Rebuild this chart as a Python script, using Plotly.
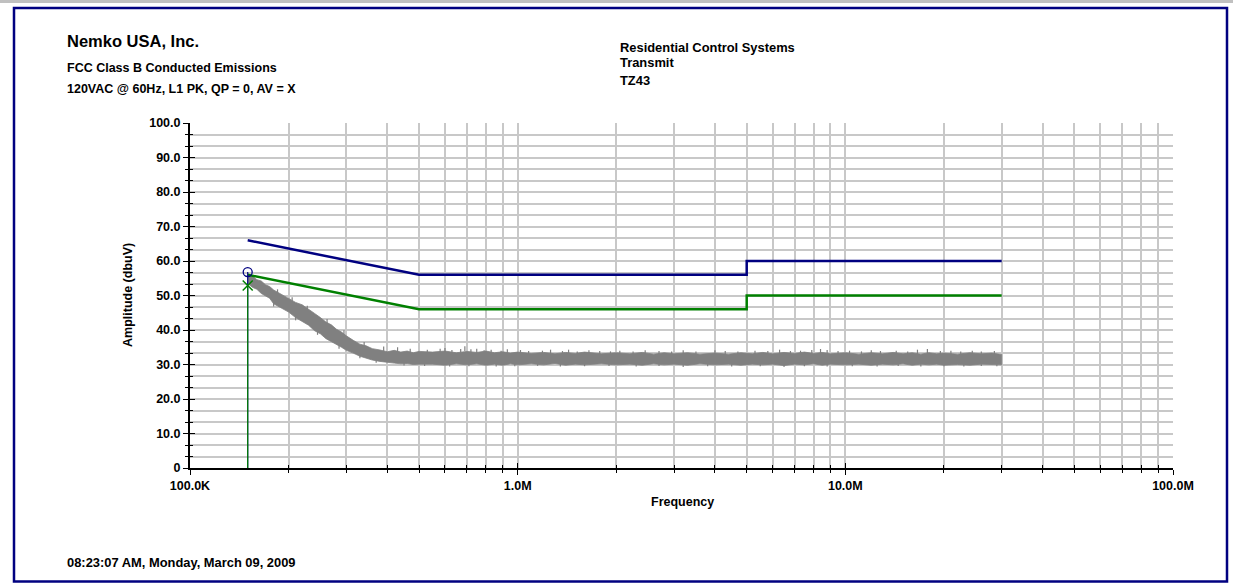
import plotly.graph_objects as go

# ---------------- data ----------------
# Limit lines (frequency in MHz, amplitude in dBuV)
qp_limit_freq = [0.15, 0.5, 5.0, 5.0, 30.0]
qp_limit_amp = [66.0, 56.0, 56.0, 60.0, 60.0]
av_limit_freq = [0.15, 0.5, 5.0, 5.0, 30.0]
av_limit_amp = [56.0, 46.0, 46.0, 50.0, 50.0]

sweep_freq = [0.150, 0.155, 0.160, 0.165, 0.170, 0.175, 0.180, 0.190, 0.200, 0.210,
              0.220, 0.230, 0.240, 0.250, 0.260, 0.270, 0.280, 0.290, 0.300, 0.315,
              0.330, 0.345, 0.360, 0.380, 0.400, 0.420, 0.440, 0.460, 0.480, 0.500,
              0.55, 0.6, 0.65, 0.7, 0.75, 0.8, 0.85, 0.9, 0.95, 1.0,
              1.1, 1.2, 1.3, 1.4, 1.5, 1.6, 1.8, 2.0, 2.2, 2.4,
              2.6, 2.8, 3.0, 3.3, 3.6, 4.0, 4.4, 4.8, 5.2, 5.6,
              6.0, 6.5, 7.0, 7.5, 8.0, 8.5, 9.0, 10.0, 11.0, 12.0,
              13.0, 14.0, 15.0, 16.0, 17.0, 18.0, 19.0, 20.0, 22.0, 24.0,
              26.0, 28.0, 30.0]
sweep_upper = [55.8, 55.6, 54.6, 54.2, 53.1, 52.6, 51.6, 50.4, 49.3, 48.0,
               47.3, 45.9, 44.8, 43.6, 42.3, 41.5, 40.2, 39.4, 38.3, 37.0,
               35.9, 35.4, 34.6, 34.2, 33.7, 34.1, 33.6, 33.9, 33.4, 33.8,
               33.6, 33.9, 33.4, 33.8, 33.5, 33.9, 33.4, 33.7, 33.3, 33.6,
               33.2, 33.5, 33.1, 33.5, 33.2, 33.6, 33.1, 33.4, 33.1, 33.5,
               33.0, 33.4, 33.1, 33.4, 33.0, 33.3, 33.0, 33.4, 33.1, 33.5,
               33.1, 33.5, 33.2, 33.6, 33.2, 33.5, 33.1, 33.4, 33.0, 33.4,
               33.1, 33.5, 33.1, 33.4, 33.0, 33.4, 33.1, 33.3, 33.0, 33.4,
               33.1, 33.3, 32.9]
sweep_lower = [53.5, 52.4, 51.8, 50.6, 50.0, 49.2, 47.6, 46.3, 45.2, 43.6,
               42.5, 41.4, 39.8, 38.9, 37.5, 36.6, 35.8, 35.0, 34.1, 33.3,
               32.4, 31.8, 31.3, 30.9, 30.6, 30.4, 30.2, 30.3, 30.0, 30.1,
               30.1, 29.8, 30.2, 29.9, 30.2, 29.8, 30.1, 29.8, 30.2, 29.9,
               30.2, 29.9, 30.3, 29.8, 30.1, 29.9, 30.2, 29.9, 30.1, 29.8,
               30.2, 29.9, 30.1, 29.8, 30.2, 29.9, 30.1, 29.8, 30.1, 29.9,
               30.1, 29.7, 30.1, 29.9, 30.2, 29.8, 30.1, 29.9, 30.1, 29.8,
               30.1, 29.9, 30.2, 29.8, 30.1, 29.9, 30.1, 29.8, 30.0, 29.8,
               30.1, 29.9, 29.9]

# Narrow noise peaks above the band (MHz, dBuV)
peak_freq = [0.185, 0.205, 0.228, 0.262, 0.295, 0.34, 0.39, 0.43, 0.47,
             0.53, 0.58, 0.60, 0.63, 0.67, 0.69, 0.72, 0.75, 0.79, 0.83, 0.89, 0.93,
             1.02, 1.08, 1.19, 1.26, 1.37, 1.43, 1.52, 1.65, 1.78, 1.92, 2.05, 2.25,
             2.45, 2.7, 2.95, 3.2, 3.5, 4.0, 4.3, 4.7, 5.3, 5.8, 6.3, 6.8, 7.3, 7.9,
             8.4, 8.8, 9.5, 10.3, 11.2, 12.0, 12.8, 14.3, 15.5, 16.6, 17.8, 19.5,
             21.0, 22.5, 24.4, 26.0, 28.5]
peak_amp = [51.8, 49.5, 47.0, 43.2, 39.9, 36.5, 35.2, 35.0, 34.6,
            34.3, 34.6, 34.8, 34.2, 34.5, 35.3, 34.4, 34.6, 34.1, 34.3, 34.0, 34.4,
            34.2, 33.9, 34.0, 34.3, 33.9, 34.3, 33.8, 34.1, 33.9, 33.8, 34.0, 33.8,
            34.1, 33.9, 33.8, 34.1, 33.8, 34.1, 33.9, 33.8, 34.0, 33.9, 34.3, 33.9,
            34.0, 34.2, 34.5, 34.2, 33.9, 34.0, 33.8, 34.1, 33.9, 34.0, 33.8, 34.3,
            34.5, 33.9, 34.0, 33.8, 34.0, 33.8, 33.9]
# Narrow dips below the band (MHz, dBuV)
dip_freq = [0.18, 0.21, 0.245, 0.285, 0.33, 0.37, 0.45, 0.52, 0.62, 0.71, 0.86,
            0.98, 1.15, 1.35, 1.6, 1.9, 2.3, 2.7, 3.2, 3.8, 4.5, 5.5, 6.5, 7.5,
            8.8, 10.5, 12.5, 14.5, 17.0, 20.0, 23.0, 26.0, 29.0]
dip_amp = [46.8, 42.8, 38.6, 34.6, 31.8, 30.5, 29.7, 29.6, 29.4, 29.5, 29.4,
           29.5, 29.6, 29.4, 29.5, 29.6, 29.4, 29.6, 29.3, 29.5, 29.4, 29.5, 29.3, 29.5,
           29.4, 29.5, 29.4, 29.6, 29.4, 29.5, 29.4, 29.6, 29.5]

# Marker readings at 150 kHz
marker_freq = [0.15]
marker_qp = [56.8]
marker_av = [52.9]

# Axis tick labels
x_tick_vals_hz = [1e5, 1e6, 1e7, 1e8]
x_tick_text = ["100.0K", "1.0M", "10.0M", "100.0M"]
y_tick_vals = [0, 10, 20, 30, 40, 50, 60, 70, 80, 90, 100]
y_tick_text = ["0", "10.0", "20.0", "30.0", "40.0", "50.0", "60.0", "70.0", "80.0", "90.0", "100.0"]

# ---------------- layout geometry ----------------
W, H = 1233, 584
L, R, T, B = 190, 60, 123, 116
PW, PH = W - L - R, H - T - B


def px(xp):
    return (xp - L) / PW


def py(yp):
    return (H - B - yp) / PH


FONT = "Liberation Sans, Arial, sans-serif"
NAVY = "#000080"
GREEN = "#008000"
GRAY = "#808080"
GRID = "#c8c8c8"
SPIKE = 1.4  # drawn length of a peak/dip stroke, dB

mhz = 1e6
fig = go.Figure()

# noise band as polygon (upper forward, lower backward)
band_x = [f * mhz for f in sweep_freq] + [f * mhz for f in reversed(sweep_freq)]
band_y = list(sweep_upper) + list(reversed(sweep_lower))
fig.add_trace(go.Scatter(x=band_x, y=band_y, mode="lines", fill="toself",
                         fillcolor=GRAY, line=dict(color=GRAY, width=0.8),
                         hoverinfo="skip", showlegend=False))

# peaks and dips as thin strokes
sx, sy = [], []
for f, a in zip(peak_freq, peak_amp):
    sx += [f * mhz, f * mhz, None]
    sy += [a - SPIKE, a, None]
for f, a in zip(dip_freq, dip_amp):
    sx += [f * mhz, f * mhz, None]
    sy += [a + SPIKE, a, None]
fig.add_trace(go.Scatter(x=sx, y=sy, mode="lines", line=dict(color=GRAY, width=1.2),
                         hoverinfo="skip", showlegend=False))

fig.add_trace(go.Scatter(x=[f * mhz for f in qp_limit_freq], y=qp_limit_amp, mode="lines",
                         line=dict(color=NAVY, width=2.5), showlegend=False))
fig.add_trace(go.Scatter(x=[f * mhz for f in av_limit_freq], y=av_limit_amp, mode="lines",
                         line=dict(color=GREEN, width=2.5), showlegend=False))

# marker stems
fig.add_trace(go.Scatter(x=[marker_freq[0] * mhz] * 2, y=[0, marker_qp[0]], mode="lines",
                         line=dict(color=NAVY, width=1.2), showlegend=False))
fig.add_trace(go.Scatter(x=[marker_freq[0] * mhz] * 2, y=[0, marker_av[0]], mode="lines",
                         line=dict(color=GREEN, width=1.2), showlegend=False))
fig.add_trace(go.Scatter(x=[f * mhz for f in marker_freq], y=marker_qp, mode="markers",
                         marker=dict(symbol="circle-open", size=9, color=NAVY,
                                     line=dict(width=1.3, color=NAVY)),
                         showlegend=False))
fig.add_trace(go.Scatter(x=[f * mhz for f in marker_freq], y=marker_av, mode="markers",
                         marker=dict(symbol="x-thin", size=10, color=GREEN,
                                     line=dict(width=1.5, color=GREEN)),
                         showlegend=False))

# invisible trace to create overlay axes (inside half of crossing ticks)
fig.add_trace(go.Scatter(x=[], y=[], xaxis="x2", yaxis="y2", showlegend=False))

x_minor = [m * d for d in (1e5, 1e6, 1e7) for m in range(2, 10)]
y_minor = [v + k * 10 / 3 for v in y_tick_vals[:-1] for k in (1, 2)]

tickfont = dict(family=FONT, size=12.5, color="black", weight="bold")

xcommon = dict(type="log", range=[5, 8], tickmode="array", tickvals=x_tick_vals_hz,
               ticklen=5, tickwidth=1.3, tickcolor="black",
               zeroline=False)
ycommon = dict(range=[0, 100], tickmode="array", tickvals=y_tick_vals,
               ticklen=5, tickwidth=1.3, tickcolor="black", zeroline=False)

fig.update_layout(
    width=W, height=H, autosize=False,
    margin=dict(l=L, r=R, t=T, b=B, pad=0),
    paper_bgcolor="white", plot_bgcolor="white",
    xaxis=dict(**xcommon, ticktext=x_tick_text, ticks="outside", tickfont=tickfont,
               showgrid=True, gridcolor=GRID, gridwidth=1.5,
               showline=True, linecolor="black", linewidth=2,
               minor=dict(tickvals=x_minor, ticks="outside", ticklen=3, tickwidth=1.2,
                          tickcolor="black", showgrid=True, gridcolor=GRID, gridwidth=1.5)),
    yaxis=dict(**ycommon, ticktext=y_tick_text, ticks="outside", tickfont=tickfont,
               showgrid=True, gridcolor=GRID, gridwidth=1.5,
               showline=True, linecolor="black", linewidth=2,
               minor=dict(tickvals=y_minor, ticks="outside", ticklen=3, tickwidth=1.2,
                          tickcolor="black", showgrid=True, gridcolor=GRID, gridwidth=1.5)),
    xaxis2=dict(**xcommon, overlaying="x", anchor="y2", side="bottom", ticks="inside",
                showticklabels=False, showgrid=False, showline=False,
                minor=dict(tickvals=x_minor, ticks="inside", ticklen=3, tickwidth=1.2,
                           tickcolor="black", showgrid=False)),
    yaxis2=dict(**ycommon, overlaying="y", anchor="x2", side="left", ticks="inside",
                showticklabels=False, showgrid=False, showline=False,
                minor=dict(tickvals=y_minor, ticks="inside", ticklen=3, tickwidth=1.2,
                           tickcolor="black", showgrid=False)),
    showlegend=False,
)


def note(text, xp, yp, size=12.5, xanchor="left", angle=0):
    fig.add_annotation(text=text, xref="paper", yref="paper", x=px(xp), y=py(yp),
                       xanchor=xanchor, yanchor="middle", showarrow=False,
                       textangle=angle,
                       font=dict(family=FONT, size=size, color="black", weight="bold"))


note("Nemko USA, Inc.", 65, 41, size=16.5)
note("FCC Class B Conducted Emissions", 65, 68)
note("120VAC @ 60Hz, L1 PK, QP = 0, AV = X", 65, 89)
note("Residential Control Systems", 618, 47, size=12.9)
note("Transmit", 618, 63, size=12.9)
note("TZ43", 618, 80, size=12.9)
note("08:23:07 AM, Monday, March 09, 2009", 65, 562, size=12.9)
note("Frequency", 682, 502, xanchor="center")
note("Amplitude (dbuV)", 128, 295, xanchor="center", angle=-90)

# outer frame and top bar
fig.add_shape(type="rect", xref="paper", yref="paper",
              x0=px(0), x1=px(W), y0=py(0), y1=py(3),
              fillcolor="#c0c0c0", line=dict(width=0), layer="below")
fig.add_shape(type="rect", xref="paper", yref="paper",
              x0=px(14), x1=px(1227), y0=py(8), y1=py(581.5),
              line=dict(color=NAVY, width=2.5), fillcolor="rgba(0,0,0,0)")

fig.write_html("out.html")
